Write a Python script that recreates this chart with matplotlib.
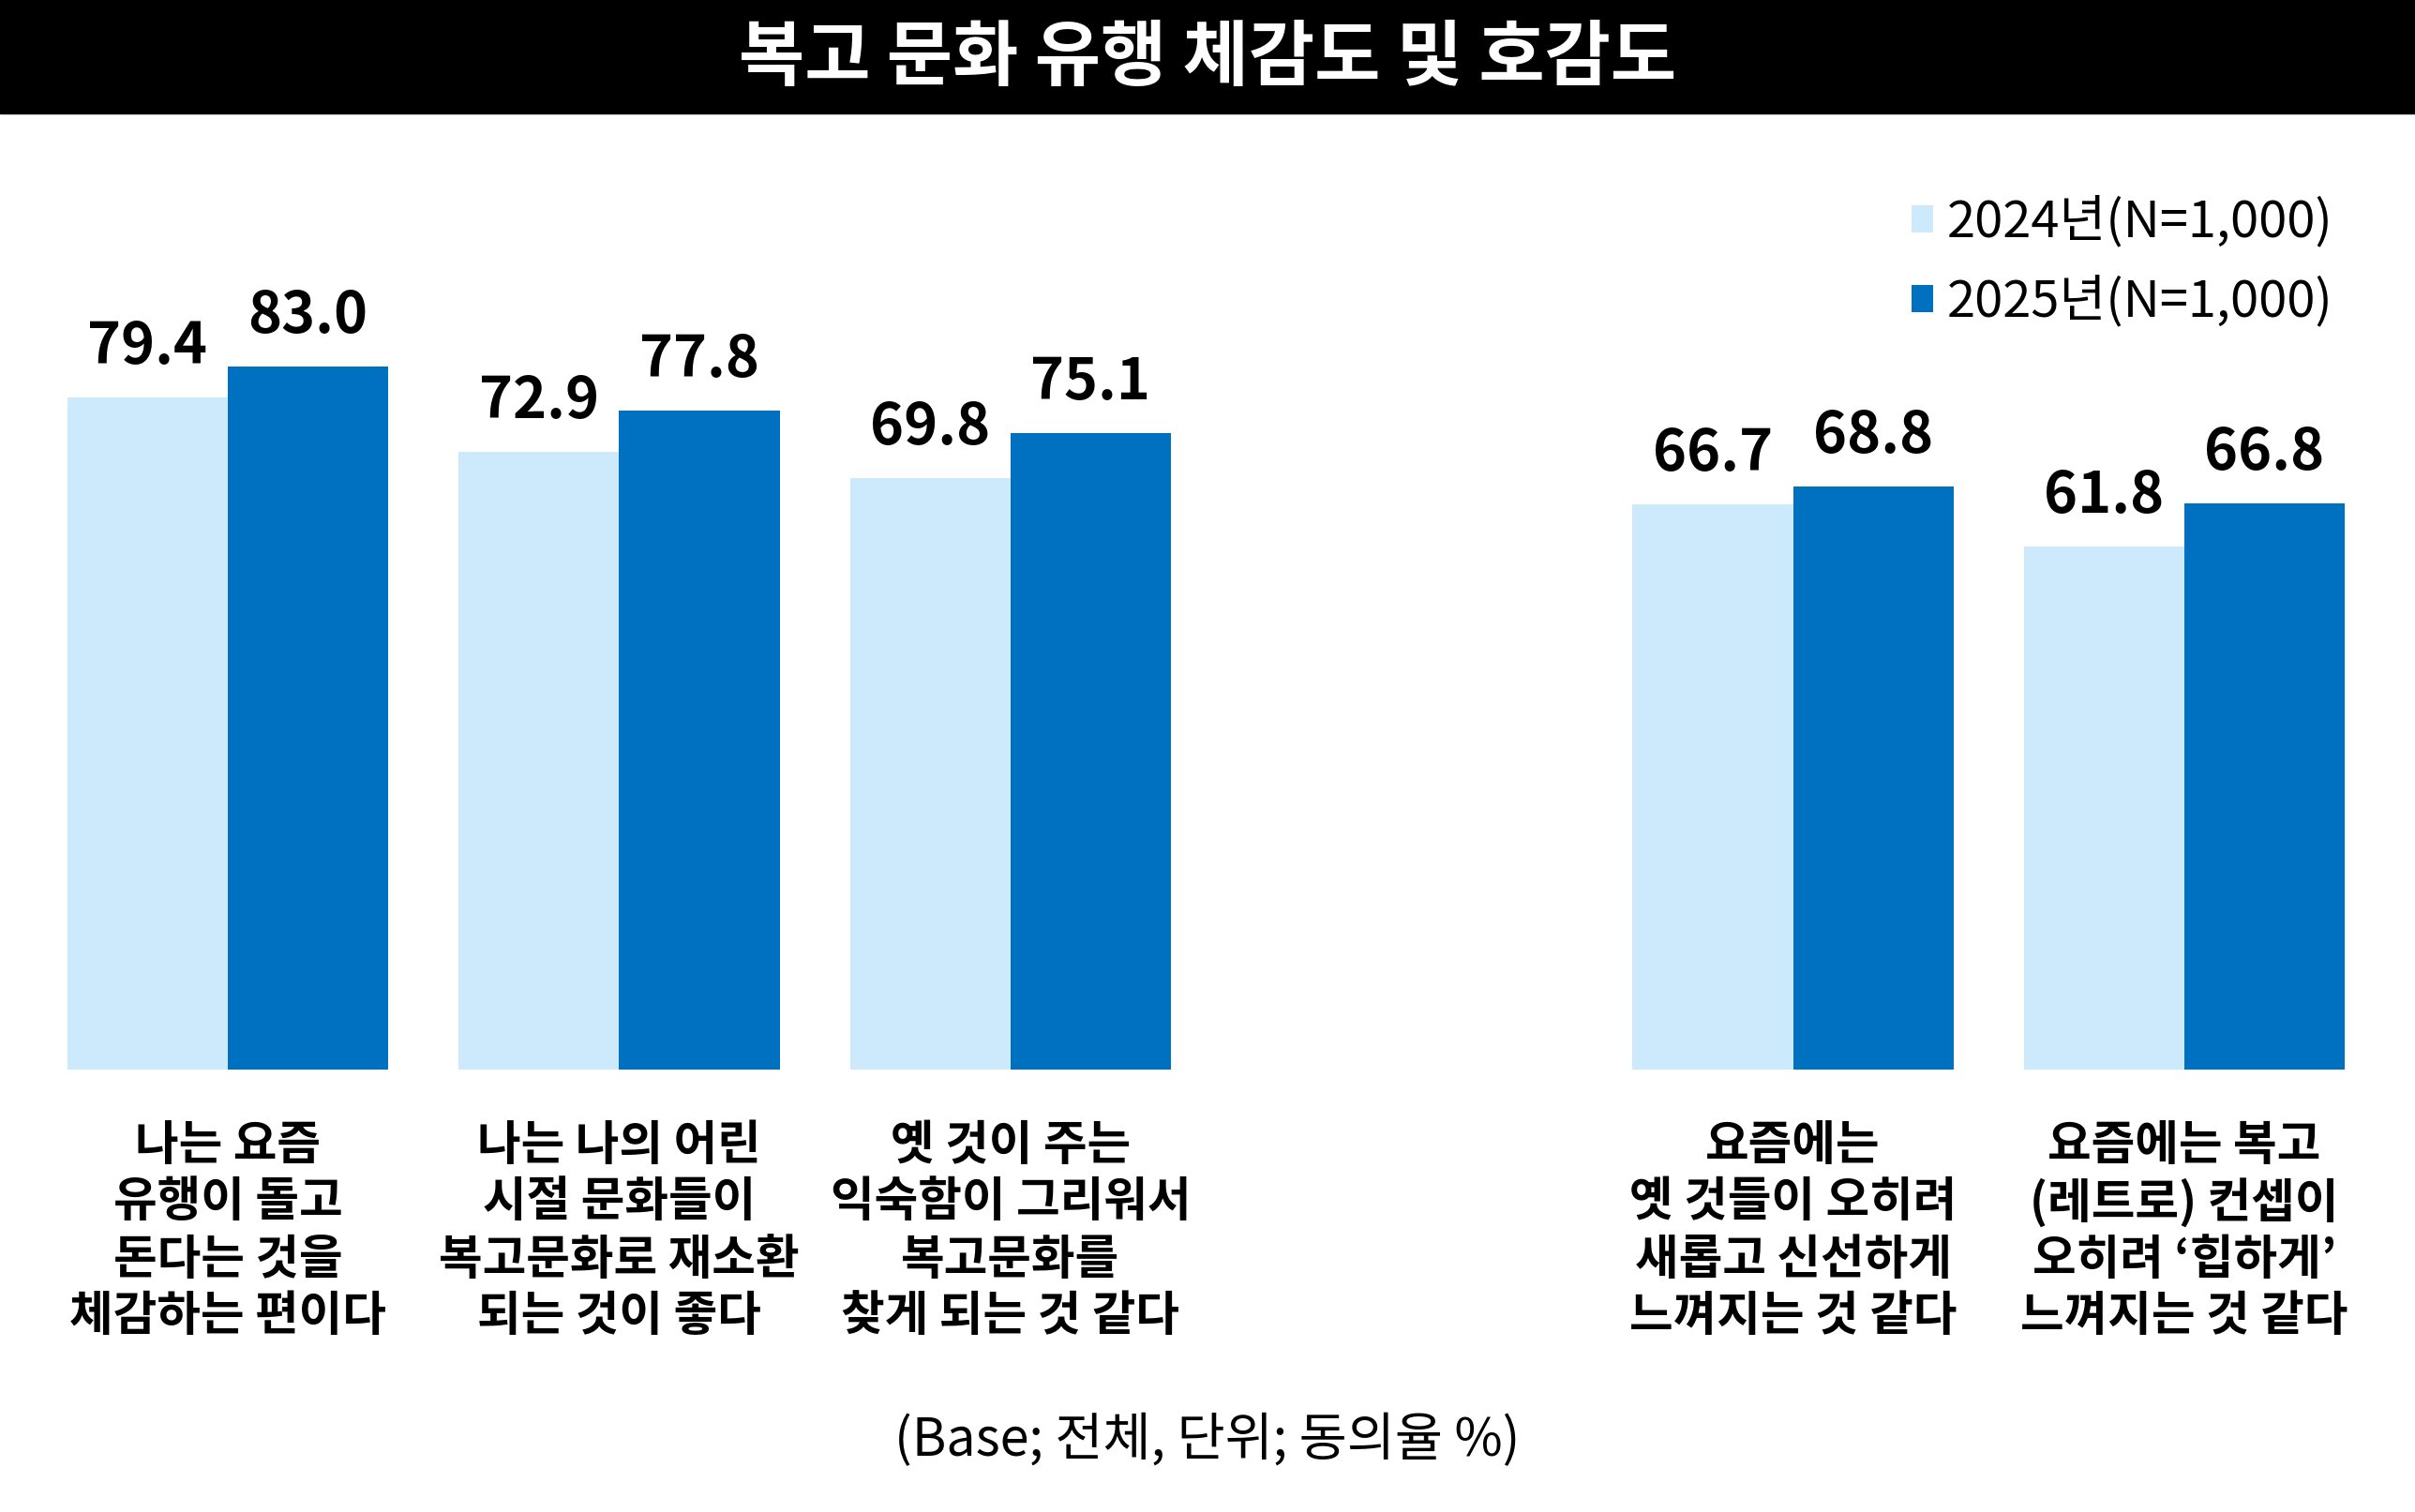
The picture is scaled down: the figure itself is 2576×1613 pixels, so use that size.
import matplotlib
matplotlib.use("Agg")
import numpy as np
from matplotlib import pyplot as plt
from matplotlib.patches import Rectangle
from matplotlib.transforms import blended_transform_factory

plt.rcParams['font.family'] = ['Noto Sans CJK KR', 'DejaVu Sans']

# ------------------------------ data ------------------------------ #
title = "복고 문화 유행 체감도 및 호감도"
categories = [
    "나는 요즘\n유행이 돌고\n돈다는 것을\n체감하는 편이다",
    "나는 나의 어린\n시절 문화들이\n복고문화로 재소환\n되는 것이 좋다",
    "옛 것이 주는\n익숙함이 그리워서\n복고문화를\n찾게 되는 것 같다",
    "요즘에는\n옛 것들이 오히려\n새롭고 신선하게\n느껴지는 것 같다",
    "요즘에는 복고\n(레트로) 컨셉이\n오히려 ‘힙하게’\n느껴지는 것 같다",
]
slots = [0, 1, 2, 4, 5]          # empty slot between the two groups
vals_2024 = [79.4, 72.9, 69.8, 66.7, 61.8]
vals_2025 = [83.0, 77.8, 75.1, 68.8, 66.8]
series_names = ["2024년(N=1,000)", "2025년(N=1,000)"]
footnote = "(Base; 전체, 단위; 동의율 %)"

c_light = "#CCEAFC"
c_dark = "#0070C0"

# ------------------------------ layout ------------------------------ #
W, H = 2576, 1613
fig = plt.figure(figsize=(W / 100, H / 100), dpi=100)
ax = fig.add_axes([0, 0, 1, 1])

px_per_slot = 417.4
px_per_unit = 9.035
x0_px, base_px = 243, 1141
ax.set_xlim(-x0_px / px_per_slot, (W - x0_px) / px_per_slot)
ax.set_ylim(-(H - base_px) / px_per_unit, base_px / px_per_unit)
ax.axis("off")

def fy(px):
    # pixel row (from top) -> figure fraction
    return 1 - px / H

# title band
fig.patches.append(Rectangle((0, fy(121)), 1, 121 / H, transform=fig.transFigure,
                             color="black", zorder=0))
fig.text(0.5, fy(62), title, color="white", fontsize=55, fontweight="bold",
         ha="center", va="center")

# bars
x = np.array(slots, dtype=float)
w = 0.41
b1 = ax.bar(x - w / 2, vals_2024, w, color=c_light, label=series_names[0])
b2 = ax.bar(x + w / 2, vals_2025, w, color=c_dark, label=series_names[1])

for bars in (b1, b2):
    for r in bars:
        ax.annotate(f"{r.get_height():.1f}", (r.get_x() + r.get_width() / 2, r.get_height()),
                    xytext=(0, 26), textcoords="offset points", ha="center", va="baseline",
                    fontsize=44, fontweight="bold", color="black")

# category labels under bars
tr = blended_transform_factory(ax.transData, fig.transFigure)
line_px = [1222, 1283, 1344, 1404]
for xi, lab in zip(x, categories):
    for yy, line in zip(line_px, lab.split("\n")):
        ax.text(xi, fy(yy), line, transform=tr, ha="center", va="center",
                fontsize=36.5, fontweight="bold", color="black")

# legend
ax.legend(handles=[b1, b2], loc="upper left", bbox_to_anchor=(2039 / W, fy(209)),
          bbox_transform=fig.transFigure, frameon=False, fontsize=39,
          handlelength=0.42, handleheight=0.46, handletextpad=0.28,
          labelspacing=0.55, borderpad=0, borderaxespad=0)

# footnote
fig.text(0.5, fy(1537), footnote, ha="center", va="center", fontsize=40, color="black")

fig.savefig("out.png", dpi=100)
